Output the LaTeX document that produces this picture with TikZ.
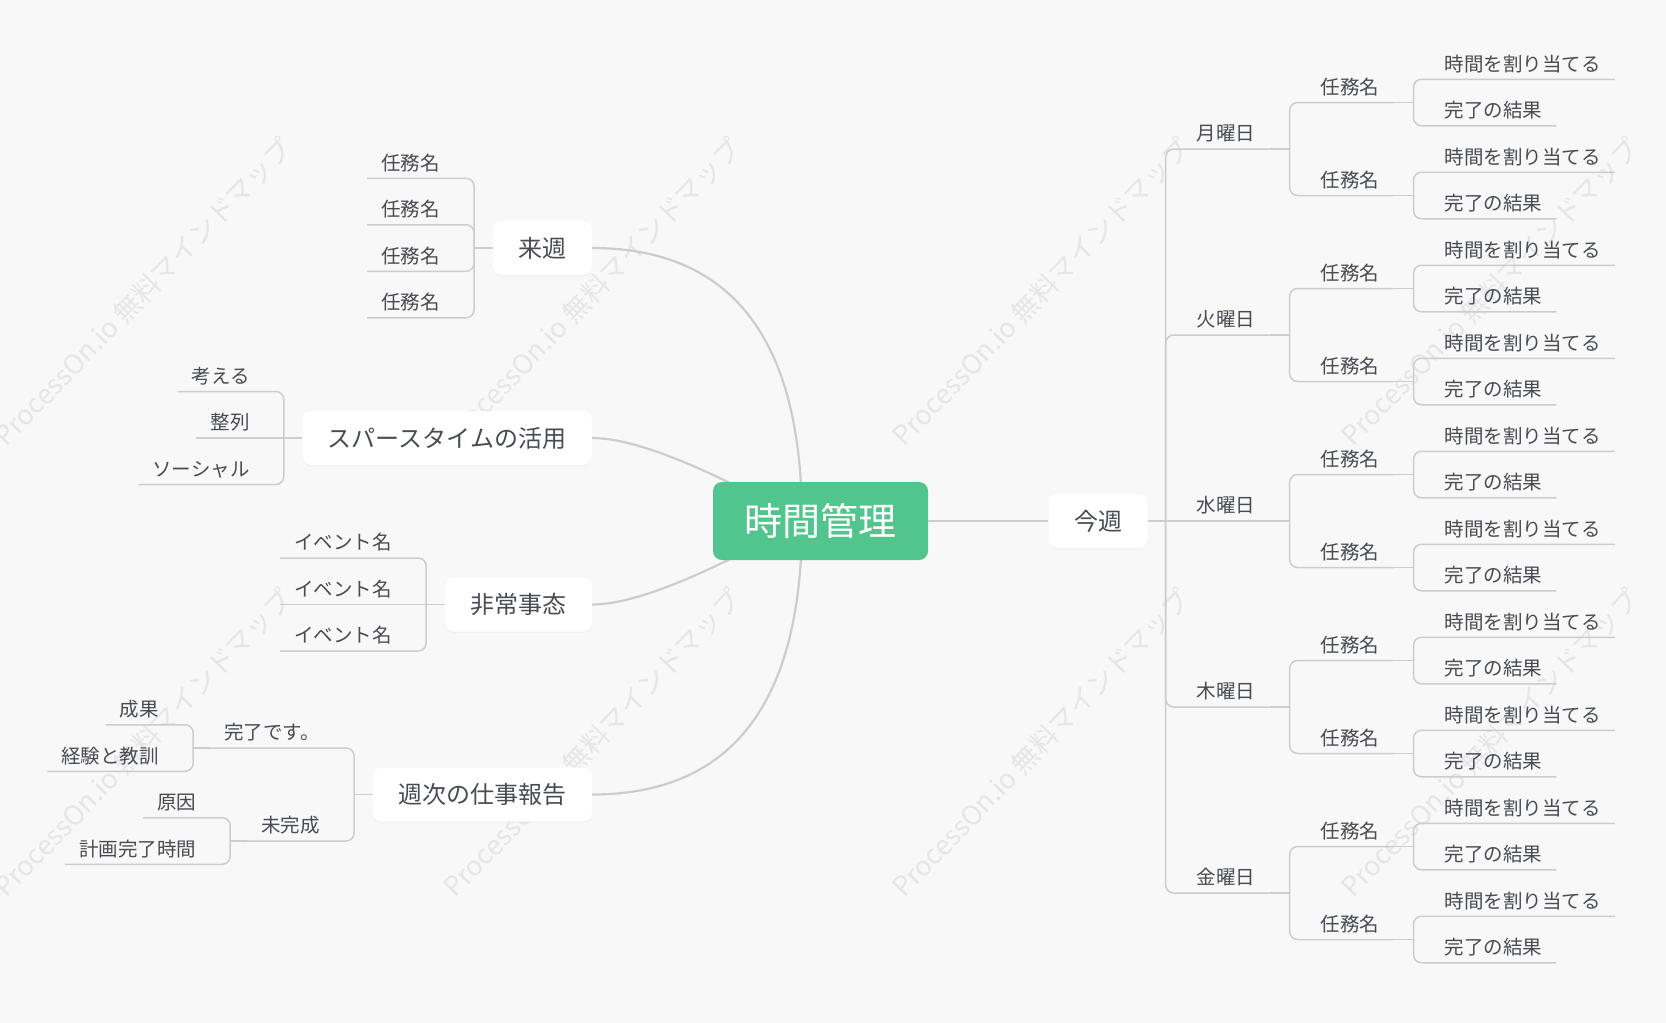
\documentclass[tikz,border=0pt]{standalone}
\usepackage{fontspec}
\setmainfont{Noto Sans CJK JP}
\usepackage{xcolor}
\usepackage{tikz}
\usetikzlibrary{calc, backgrounds, shadows}
\definecolor{tmgreen}{HTML}{52C48D}
\definecolor{tmpaper}{HTML}{F8F8F8}
\definecolor{tmtext}{HTML}{474B52}
\definecolor{tmline}{HTML}{CDCDCD}
\definecolor{tmmark}{HTML}{E6E6E6}

\begin{document}
\begin{tikzpicture}[x=1pt, y=-1pt,
  hub/.style={fill=tmgreen, text=white, rounded corners=9pt, minimum width=215pt, minimum height=78pt, text height=29pt, text depth=0pt, font=\fontsize{38}{40}\selectfont},
  topic/.style={fill=white, text=tmtext, rounded corners=9pt, inner xsep=25.5pt, minimum height=54pt, text height=18pt, text depth=0pt, font=\fontsize{24}{26}\selectfont, drop shadow={shadow xshift=0pt, shadow yshift=-1.5pt, opacity=0.05}},
  leaf/.style={text=tmtext, inner xsep=14pt, inner ysep=0pt, text height=17pt, text depth=8pt, font=\fontsize{19.5}{22}\selectfont},
  wm/.style={text=tmmark, rotate=46, font=\fontsize{27}{30}\selectfont},
  conn/.style={draw=tmline, line width=1.5pt, rounded corners=8pt},
  bough/.style={draw=tmline, line width=2.2pt}
]
  \useasboundingbox (0,0) rectangle (1666,1023);
  \begin{scope}[on background layer]
    \fill[tmpaper] (0,0) rectangle (1666,1023);
    \foreach \mx in {143, 592, 1041, 1490}
      \foreach \my in {292, 743}
        \node[wm] (wm-\mx-\my) at (\mx,\my) {ProcessOn.io 無料マインドマップ};
  \end{scope}

  \node[hub] (root) at (820.5,521) {時間管理};
  \node[topic] (thisweek) at (1098,521) {今週};
  \node[topic, anchor=east] (nextweek) at (592,248) {来週};
  \node[topic, anchor=east] (spare) at (592,438) {スパースタイムの活用};
  \node[topic, anchor=east] (emergency) at (592,604.5) {非常事态};
  \node[topic, anchor=east] (report) at (592,794.5) {週次の仕事報告};
  \coordinate (root-in) at ($(root.center)+(-18.5,0)$);

  \begin{scope}[on background layer]
    \draw[bough] (nextweek.east) .. controls +(140,0) and +(0,-182) .. (root-in);
    \draw[bough] (spare.east) .. controls +(42,0) and +(-98,-55) .. (root-in);
    \draw[bough] (emergency.east) .. controls +(42,0) and +(-98,55) .. (root-in);
    \draw[bough] (report.east) .. controls +(140,0) and +(0,182) .. (root-in);
  \end{scope}
  \draw[bough] (root.east) -- (thisweek.west);

  \draw[conn] (thisweek.east) -- ++(18,0) coordinate (thisweek-t);
  \foreach \d/\y [count=\i] in {月曜日/149, 火曜日/335, 水曜日/521, 木曜日/707, 金曜日/893} {
    \node[leaf, anchor=south west] (day\i) at ($(thisweek-t)+(17,\y-521)$) {\d};
    \ifnum\i=3
      \draw[conn] (thisweek-t) -- (day\i.south east);
    \else
      \draw[conn] (thisweek-t) |- (day\i.south east);
    \fi
    \draw[conn] (day\i.south east) -- ++(20,0) coordinate (day\i-t);
    \foreach \s [count=\j] in {-1,1} {
      \node[leaf, anchor=south west] (task\i\j) at ($(day\i-t)+(17,\s*46.5)$) {任務名};
      \draw[conn] (day\i-t) |- (task\i\j.south east);
      \draw[conn] (task\i\j.south east) -- ++(20,0) coordinate (task\i\j-t);
      \node[leaf, anchor=south west] (alloc\i\j) at ($(task\i\j-t)+(17,-23.25)$) {時間を割り当てる};
      \node[leaf, anchor=south west] (result\i\j) at ($(task\i\j-t)+(17,23.25)$) {完了の結果};
      \draw[conn] (task\i\j-t) |- (alloc\i\j.south east);
      \draw[conn] (task\i\j-t) |- (result\i\j.south east);
    }
  }

  \draw[conn] (nextweek.west) -- ++(-18.5,0) coordinate (nextweek-t);
  \node[leaf, anchor=south east] (nw1) at ($(nextweek-t)+(-20,-69.75)$) {任務名};
  \node[leaf, anchor=south east] (nw2) at ($(nextweek-t)+(-20,-23.25)$) {任務名};
  \node[leaf, anchor=south east] (nw3) at ($(nextweek-t)+(-20,23.25)$) {任務名};
  \node[leaf, anchor=south east] (nw4) at ($(nextweek-t)+(-20,69.75)$) {任務名};
  \draw[conn] (nextweek-t) |- (nw1.south west);
  \draw[conn] (nextweek-t) |- (nw2.south west);
  \draw[conn] (nextweek-t) |- (nw3.south west);
  \draw[conn] (nextweek-t) |- (nw4.south west);

  \draw[conn] (spare.west) -- ++(-18.5,0) coordinate (spare-t);
  \node[leaf, anchor=south east] (think) at ($(spare-t)+(-20,-46.5)$) {考える};
  \node[leaf, anchor=south east] (align) at ($(spare-t)+(-20,0)$) {整列};
  \node[leaf, anchor=south east] (social) at ($(spare-t)+(-20,46.5)$) {ソーシャル};
  \draw[conn] (spare-t) |- (think.south west);
  \draw[conn] (spare-t) -- (align.south west);
  \draw[conn] (spare-t) |- (social.south west);

  \draw[conn] (emergency.west) -- ++(-18.5,0) coordinate (emergency-t);
  \node[leaf, anchor=south east] (ev1) at ($(emergency-t)+(-20,-46.5)$) {イベント名};
  \node[leaf, anchor=south east] (ev2) at ($(emergency-t)+(-20,0)$) {イベント名};
  \node[leaf, anchor=south east] (ev3) at ($(emergency-t)+(-20,46.5)$) {イベント名};
  \draw[conn] (emergency-t) |- (ev1.south west);
  \draw[conn] (emergency-t) -- (ev2.south west);
  \draw[conn] (emergency-t) |- (ev3.south west);

  \draw[conn] (report.west) -- ++(-18.5,0) coordinate (report-t);
  \node[leaf, anchor=south east] (done) at ($(report-t)+(-20,-46.5)$) {完了です。};
  \node[leaf, anchor=south east] (undone) at ($(report-t)+(-20,46.5)$) {未完成};
  \draw[conn] (report-t) |- (done.south west);
  \draw[conn] (report-t) |- (undone.south west);
  \draw[conn] (done.south west) -- ++(-17,0) coordinate (done-t);
  \node[leaf, anchor=south east] (outcome) at ($(done-t)+(-20,-23.25)$) {成果};
  \node[leaf, anchor=south east] (lessons) at ($(done-t)+(-20,23.25)$) {経験と教訓};
  \draw[conn] (done-t) |- (outcome.south west);
  \draw[conn] (done-t) |- (lessons.south west);
  \draw[conn] (undone.south west) -- ++(-17,0) coordinate (undone-t);
  \node[leaf, anchor=south east] (cause) at ($(undone-t)+(-20,-23.25)$) {原因};
  \node[leaf, anchor=south east] (plan) at ($(undone-t)+(-20,23.25)$) {計画完了時間};
  \draw[conn] (undone-t) |- (cause.south west);
  \draw[conn] (undone-t) |- (plan.south west);
\end{tikzpicture}
\end{document}
